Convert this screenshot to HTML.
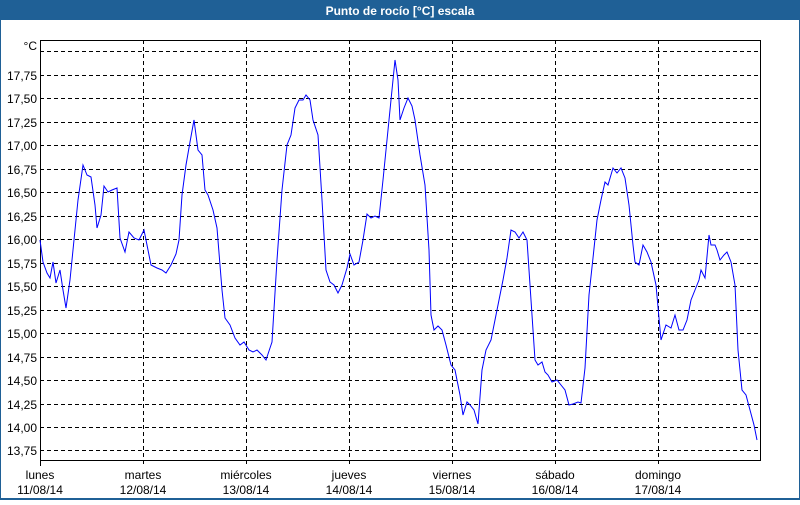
<!DOCTYPE html>
<html><head><meta charset="utf-8"><style>
body{margin:0;width:800px;height:500px;overflow:hidden;background:#fff;font-family:"Liberation Sans","DejaVu Sans",sans-serif}
</style></head><body>
<svg width="800" height="500" xmlns="http://www.w3.org/2000/svg" font-family="Liberation Sans, DejaVu Sans, sans-serif" font-size="12">
<rect x="0" y="0" width="800" height="500" fill="#fff"/>
<rect x="0" y="0" width="800" height="20" fill="#1f6096"/>
<rect x="0" y="0" width="1" height="500" fill="#1f6096"/>
<rect x="799" y="0" width="1" height="500" fill="#1f6096"/>
<rect x="0" y="498" width="800" height="2" fill="#1f6096"/>
<text x="400" y="15" fill="#fff" font-weight="bold" text-anchor="middle" font-size="12">Punto de rocío [°C] escala</text>
<g stroke="#000" stroke-dasharray="4,3" stroke-width="1">
<line x1="40" y1="51.5" x2="760" y2="51.5"/>
<line x1="40" y1="75.5" x2="760" y2="75.5"/>
<line x1="40" y1="98.5" x2="760" y2="98.5"/>
<line x1="40" y1="122.5" x2="760" y2="122.5"/>
<line x1="40" y1="145.5" x2="760" y2="145.5"/>
<line x1="40" y1="169.5" x2="760" y2="169.5"/>
<line x1="40" y1="192.5" x2="760" y2="192.5"/>
<line x1="40" y1="216.5" x2="760" y2="216.5"/>
<line x1="40" y1="239.5" x2="760" y2="239.5"/>
<line x1="40" y1="263.5" x2="760" y2="263.5"/>
<line x1="40" y1="286.5" x2="760" y2="286.5"/>
<line x1="40" y1="310.5" x2="760" y2="310.5"/>
<line x1="40" y1="333.5" x2="760" y2="333.5"/>
<line x1="40" y1="357.5" x2="760" y2="357.5"/>
<line x1="40" y1="380.5" x2="760" y2="380.5"/>
<line x1="40" y1="404.5" x2="760" y2="404.5"/>
<line x1="40" y1="427.5" x2="760" y2="427.5"/>
<line x1="40" y1="450.5" x2="760" y2="450.5"/>
<line x1="143.5" y1="40" x2="143.5" y2="466"/>
<line x1="246.5" y1="40" x2="246.5" y2="466"/>
<line x1="349.5" y1="40" x2="349.5" y2="466"/>
<line x1="452.5" y1="40" x2="452.5" y2="466"/>
<line x1="555.5" y1="40" x2="555.5" y2="466"/>
<line x1="658.5" y1="40" x2="658.5" y2="466"/>
</g>
<rect x="40.5" y="40.5" width="720" height="420" fill="none" stroke="#000"/>
<line x1="40.5" y1="460" x2="40.5" y2="466" stroke="#000"/>
<g fill="#000" text-anchor="end">
<text x="37" y="50">°C</text>
<text x="37" y="80">17,75</text><text x="37" y="103">17,50</text><text x="37" y="127">17,25</text>
<text x="37" y="150">17,00</text><text x="37" y="174">16,75</text><text x="37" y="197">16,50</text>
<text x="37" y="221">16,25</text><text x="37" y="244">16,00</text><text x="37" y="268">15,75</text>
<text x="37" y="291">15,50</text><text x="37" y="315">15,25</text><text x="37" y="338">15,00</text>
<text x="37" y="362">14,75</text><text x="37" y="385">14,50</text><text x="37" y="409">14,25</text>
<text x="37" y="432">14,00</text><text x="37" y="455">13,75</text>
</g>
<g fill="#000" text-anchor="middle">
<text x="40" y="479">lunes</text><text x="40" y="494">11/08/14</text>
<text x="143" y="479">martes</text><text x="143" y="494">12/08/14</text>
<text x="246" y="479">miércoles</text><text x="246" y="494">13/08/14</text>
<text x="349" y="479">jueves</text><text x="349" y="494">14/08/14</text>
<text x="452" y="479">viernes</text><text x="452" y="494">15/08/14</text>
<text x="555" y="479">sábado</text><text x="555" y="494">16/08/14</text>
<text x="658" y="479">domingo</text><text x="658" y="494">17/08/14</text>
</g>
<polyline fill="none" stroke="#0000ff" stroke-width="1" points="40,240 43,262 47,273 50,278 53,262 56,283 60,270 63,290 66,308 70,280 74,240 78,200 83,165 87,175 91,177 95,205 97,228 101,215 104,186 108,192 112,190 117,188 120,238 125,252 129,232 134,238 139,240 144,230 148,250 151,265 157,268 162,270 166,273 171,265 176,254 179,240 182,195 186,165 190,142 194,120 198,150 202,155 205,190 208,195 213,210 217,228 222,290 225,318 230,325 235,338 240,345 244,342 249,350 253,352 257,350 262,355 266,360 270,348 272,342 277,260 282,190 287,145 291,135 295,108 299,100 303,100 306,95 310,100 313,120 318,135 322,200 326,270 330,282 334,285 338,293 342,285 347,268 350,254 354,265 359,262 363,240 367,214 371,218 375,216 379,218 383,180 387,140 392,90 395,60 398,80 400,120 404,108 408,98 412,106 415,120 420,155 425,185 429,250 431,315 434,330 438,326 442,330 446,345 451,365 455,370 460,395 463,415 467,402 470,405 474,410 478,424 482,370 486,350 491,340 495,320 499,300 503,280 507,258 511,230 515,232 519,238 523,232 527,240 531,300 535,360 538,365 542,362 545,372 548,375 552,382 557,380 561,385 565,390 569,405 573,404 578,402 581,403 585,368 589,295 593,258 597,220 601,200 605,182 608,185 613,168 617,173 621,168 625,178 629,205 633,245 635,262 639,265 643,245 647,252 651,262 656,285 661,340 666,325 671,328 675,315 679,330 683,330 687,320 691,300 695,290 699,280 701,270 705,278 709,235 711,245 715,245 717,250 720,260 724,255 727,252 731,262 735,285 738,350 742,390 746,395 750,410 754,425 757,440"/>
</svg>
</body></html>
